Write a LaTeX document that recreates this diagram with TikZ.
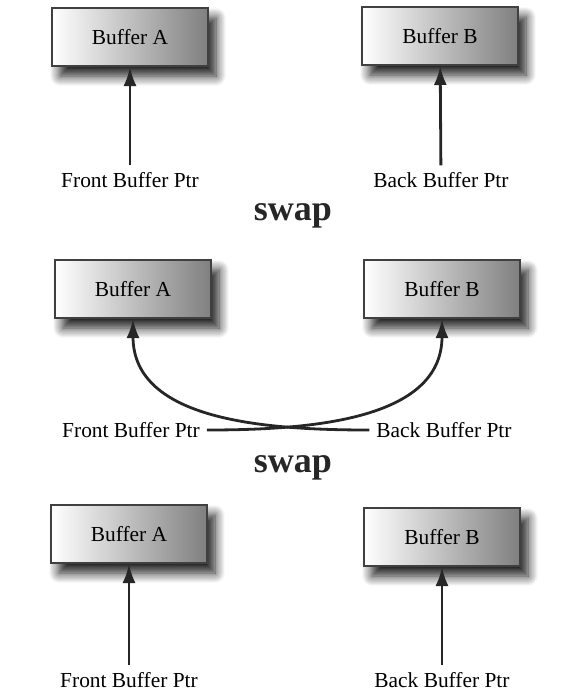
\documentclass[tikz,border=0pt]{standalone}
\usepackage{fontspec}
\setmainfont{Liberation Serif}
\usetikzlibrary{arrows.meta,shadows.blur}

\begin{document}
\begin{tikzpicture}[x=0.5pt, y=-0.5pt, every node/.style={font=\fontsize{10.7}{13}\selectfont}, >={Latex[length=9.5pt,width=6.5pt]},
	buf/.style={draw=black!75, line width=1pt, minimum width=78pt, minimum height=29pt, left color=white, right color=black!50, blur shadow={shadow xshift=4pt, shadow yshift=-5pt, shadow blur radius=5pt, shadow blur steps=10, shadow opacity=90}},
	ptr/.style={->, line width=1.4pt, black!85},
	swaptxt/.style={font=\fontsize{18}{18}\bfseries\selectfont, text=black!85}]
	\useasboundingbox (0,0) rectangle (573,697);
	\foreach \r/\xa/\ya/\xb/\yb in {1/130/37/440/36, 2/133/289/442/289, 3/129/534/442/537} {
		\node[buf] (bufA\r) at (\xa,\ya) {Buffer A};
		\node[buf] (bufB\r) at (\xb,\yb) {Buffer B};
	}
	\node (front1) at (130,180) {Front Buffer Ptr};
	\node (back1) at (441,180) {Back Buffer Ptr};
	\node (front2) at (131,430) {Front Buffer Ptr};
	\node (back2) at (444,430) {Back Buffer Ptr};
	\node (front3) at (129,680) {Front Buffer Ptr};
	\node (back3) at (442,680) {Back Buffer Ptr};
	\node[swaptxt] (swap1) at (293,216) {swap};
	\node[swaptxt] (swap2) at (293,468) {swap};
	\draw[ptr] (front1) -- (bufA1);
	\draw[ptr] (back1) -- (bufB1);
	\draw[ptr] (front2.east) to[out=0, in=-90] (bufB2.south);
	\draw[ptr] (back2.west) to[out=180, in=-90] (bufA2.south);
	\draw[ptr] (front3) -- (bufA3);
	\draw[ptr] (back3) -- (bufB3);
\end{tikzpicture}
\end{document}
